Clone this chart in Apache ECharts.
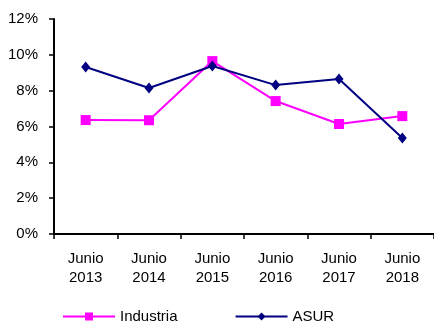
<!DOCTYPE html>
<html><head><meta charset="utf-8">
<script src="https://cdn.jsdelivr.net/npm/echarts@6/dist/echarts.min.js"></script>
<style>html,body{margin:0;padding:0;background:#fff}#c{width:434px;height:326px}</style>
</head><body><div id="c"></div>
<script>
const categories = ["Junio\n2013","Junio\n2014","Junio\n2015","Junio\n2016","Junio\n2017","Junio\n2018"];
const industria = [6.36, 6.35, 9.65, 7.42, 6.14, 6.58];
const asur = [9.32, 8.15, 9.38, 8.31, 8.65, 5.36];
const font = "Liberation Sans, Arial, sans-serif";
const chart = echarts.init(document.getElementById('c'));
chart.setOption({
  animation:false,
  grid:{left:54,right:-4,top:19,bottom:92,containLabel:false},
  xAxis:{type:'category',data:categories,boundaryGap:true,
    axisLine:{lineStyle:{color:'#000',width:2}},
    axisTick:{show:true,length:5,lineStyle:{color:'#000',width:1.5},alignWithLabel:false},
    axisLabel:{color:'#000',fontFamily:font,fontSize:15,lineHeight:19,margin:15,interval:0},
    splitLine:{show:false}},
  yAxis:{type:'value',min:0,max:12,interval:2,
    axisLine:{show:true,lineStyle:{color:'#000',width:2}},
    axisTick:{show:true,length:5,lineStyle:{color:'#000',width:1.5}},
    axisLabel:{color:'#000',fontFamily:font,fontSize:15,margin:16,formatter:'{value}%'},
    splitLine:{show:false}},
  legend:{bottom:2,left:62,padding:0,itemWidth:52,itemHeight:10,itemGap:57,
    textStyle:{color:'#000',fontFamily:font,fontSize:15},
    data:['Industria','ASUR']},
  series:[
    {name:'Industria',type:'line',data:industria,symbol:'rect',symbolSize:10,
     lineStyle:{color:'#FF00FF',width:2},itemStyle:{color:'#FF00FF'}},
    {name:'ASUR',type:'line',data:asur,symbol:'diamond',symbolSize:[9,11],
     lineStyle:{color:'#000080',width:2},itemStyle:{color:'#000080'}}
  ]
});
</script></body></html>
